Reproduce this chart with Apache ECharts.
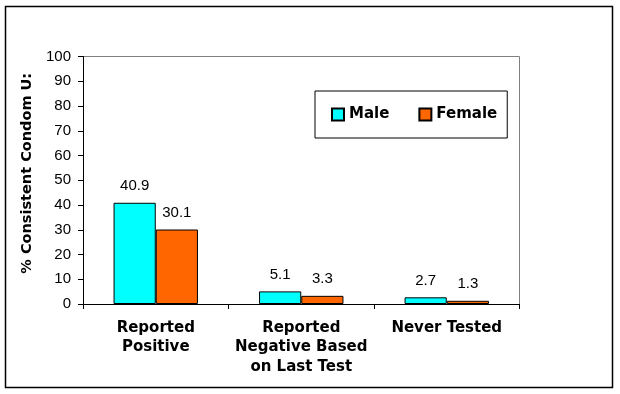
<!DOCTYPE html>
<html><head><meta charset="utf-8">
<script src="https://cdn.jsdelivr.net/npm/echarts@6/dist/echarts.min.js"></script>
<style>html,body{margin:0;padding:0;background:#fff}#c{width:620px;height:394px}</style>
</head><body><div id="c"></div>
<script>
var categories = ["Reported\nPositive", "Reported\nNegative Based\non Last Test", "Never Tested"];
var maleValues = [40.9, 5.1, 2.7];
var femaleValues = [30.1, 3.3, 1.3];
var yTicks = [0, 10, 20, 30, 40, 50, 60, 70, 80, 90, 100];
var seriesNames = ["Male", "Female"];

var chart = echarts.init(document.getElementById('c'), null, {renderer: 'canvas'});
var font = 'Arial, "Liberation Sans", sans-serif';
var boldFont = '"DejaVu Sans", Arial, sans-serif';
chart.setOption({
  animation: false,
  backgroundColor: '#fff',
  graphic: [
    {type: 'rect', shape: {x: 5.5, y: 6.5, width: 607, height: 381}, style: {fill: 'none', stroke: '#000', lineWidth: 1.5}, z: -1},
    {type: 'polyline', shape: {points: [[83, 56.5], [519.5, 56.5], [519.5, 304]]}, style: {fill: 'none', stroke: '#808080', lineWidth: 1}, z: -1}
  ],
  grid: {left: 83, top: 56.5, width: 436.5, height: 247.5, containLabel: false},
  legend: {
    data: seriesNames,
    left: 315, top: 91, width: 194, height: 50,
    padding: [16, 10, 16, 16],
    borderColor: '#000', borderWidth: 1,
    itemWidth: 12, itemHeight: 12, itemGap: 29,
    textStyle: {fontFamily: boldFont, fontSize: 15, fontWeight: 'bold', color: '#000'},
    icon: 'rect'
  },
  xAxis: {
    type: 'category', data: categories,
    axisLine: {lineStyle: {color: '#000', width: 1}},
    axisTick: {show: true, alignWithLabel: false, length: 5, lineStyle: {color: '#000'}},
    axisLabel: {fontFamily: boldFont, fontSize: 15, fontWeight: 'bold', color: '#000', lineHeight: 19.5, margin: 14, interval: 0, verticalAlign: 'top'}
  },
  yAxis: {
    type: 'value', min: 0, max: 100, interval: 10,
    name: '% Consistent Condom U:', nameLocation: 'middle', nameGap: 45, nameRotate: 90,
    nameTextStyle: {fontFamily: boldFont, fontSize: 14.5, fontWeight: 'bold', color: '#000', padding: [0, 0, 0, 14]},
    axisLine: {show: true, lineStyle: {color: '#000'}},
    axisTick: {show: true, length: 5, lineStyle: {color: '#000'}},
    splitLine: {show: false},
    axisLabel: {fontFamily: font, fontSize: 15, color: '#000', margin: 12,
      formatter: function (v) { return yTicks.indexOf(v) >= 0 ? String(v) : ''; }}
  },
  series: [
    {name: seriesNames[0], type: 'bar', data: maleValues, barGap: '0%', barCategoryGap: '42%',
      itemStyle: {color: '#00FFFF', borderColor: '#000', borderWidth: 1},
      label: {show: true, position: 'top', distance: 9, fontFamily: font, fontSize: 15, color: '#000'}},
    {name: seriesNames[1], type: 'bar', data: femaleValues, barGap: '0%', barCategoryGap: '42%',
      itemStyle: {color: '#FF6600', borderColor: '#000', borderWidth: 1},
      label: {show: true, position: 'top', distance: 9, fontFamily: font, fontSize: 15, color: '#000'}}
  ]
});
</script></body></html>
